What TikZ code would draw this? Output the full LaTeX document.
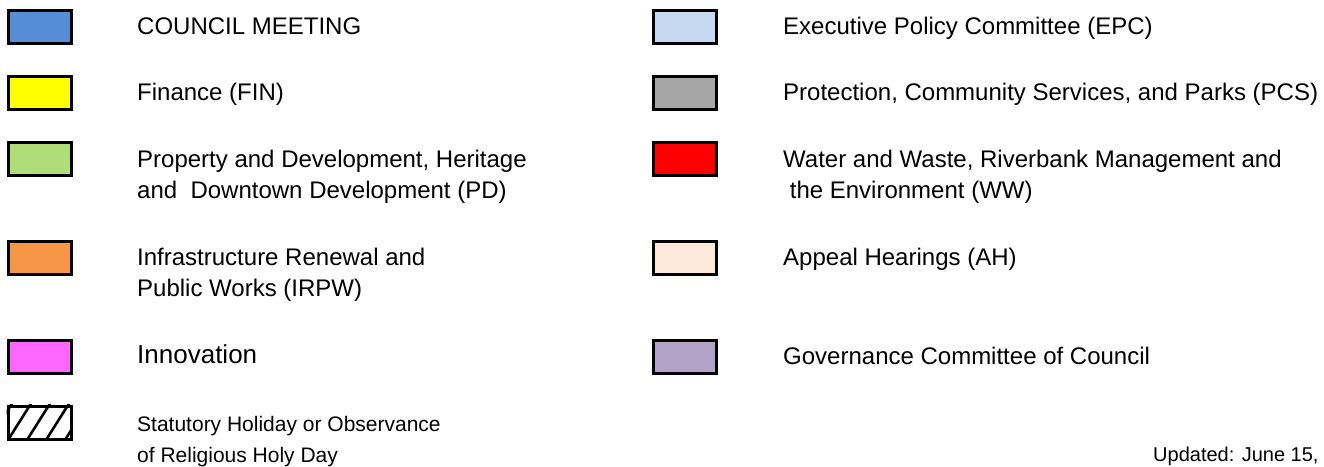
\documentclass[tikz,border=0pt]{standalone}
\usepackage{fontspec}
\setmainfont{Liberation Sans}
\definecolor{cCouncil}{RGB}{85,142,213}
\definecolor{cEPC}{RGB}{198,217,241}
\definecolor{cFIN}{RGB}{255,255,0}
\definecolor{cPCS}{RGB}{166,166,166}
\definecolor{cPD}{RGB}{176,221,120}
\definecolor{cWW}{RGB}{255,0,0}
\definecolor{cIRPW}{RGB}{247,150,70}
\definecolor{cAH}{RGB}{253,233,217}
\definecolor{cINN}{RGB}{255,102,255}
\definecolor{cGOV}{RGB}{179,162,199}
\begin{document}
\begin{tikzpicture}[x=1pt,y=-1pt,
  swatch/.style={draw=black, line width=3pt, minimum width=63pt, minimum height=33pt, inner sep=0pt, anchor=north west},
  label/.style={anchor=base west, inner sep=0pt, align=left, font=\fontsize{24}{31}\selectfont},
  biglabel/.style={label, font=\fontsize{26}{31}\selectfont},
  smalllabel/.style={label, font=\fontsize{21}{31}\selectfont},
  hatch/.style={line width=2.6pt, black}]
\useasboundingbox (0,0) rectangle (1324,466);
% left column swatches
\node[swatch, fill=cCouncil] (sCouncil) at (6.5,8.5) {};
\node[swatch, fill=cFIN] (sFIN) at (6.5,74.5) {};
\node[swatch, fill=cPD] (sPD) at (6.5,140.5) {};
\node[swatch, fill=cIRPW] (sIRPW) at (6.5,239.5) {};
\node[swatch, fill=cINN] (sINN) at (6.5,338.5) {};
\node[swatch, fill=white] (sHol) at (6.5,404.5) {};
\begin{scope}
  \clip (sHol.north west) rectangle (sHol.south east);
  \foreach \b in {-30,-11,8,27,46,65} {
    \draw[hatch] (\b,440) -- (\b+24,402);
  }
\end{scope}
\node[swatch, fill=none] (sHolB) at (6.5,404.5) {};
% right column swatches
\node[swatch, fill=cEPC] (sEPC) at (651.5,8.5) {};
\node[swatch, fill=cPCS] (sPCS) at (651.5,74.5) {};
\node[swatch, fill=cWW] (sWW) at (651.5,140.5) {};
\node[swatch, fill=cAH] (sAH) at (651.5,239.5) {};
\node[swatch, fill=cGOV] (sGOV) at (651.5,338.5) {};
% left labels (base anchor = baseline of last line)
\node[label] (tCouncil) at (137,34) {COUNCIL MEETING};
\node[label] (tFIN) at (137,100) {Finance (FIN)};
\node[label] (tPD) at (137,198) {Property and Development, Heritage\\and\ \ Downtown Development (PD)};
\node[label] (tIRPW) at (137,296) {Infrastructure Renewal and\\Public Works (IRPW)};
\node[biglabel] (tINN) at (137,363.5) {Innovation};
\node[smalllabel] (tHol) at (137,462) {Statutory Holiday or Observance\\of Religious Holy Day};
% right labels
\node[label] (tEPC) at (783,34) {Executive Policy Committee (EPC)};
\node[label] (tPCS) at (783,100) {Protection, Community Services, and Parks (PCS)};
\node[label] (tWW) at (783,198) {Water and Waste, Riverbank Management and\\\ the Environment (WW)};
\node[label] (tAH) at (783,265) {Appeal Hearings (AH)};
\node[label] (tGOV) at (783,364) {Governance Committee of Council};
\node[label, font=\fontsize{20}{31}\selectfont] (tUpd) at (1153,461) {Updated: June 15,};
\end{tikzpicture}
\end{document}
